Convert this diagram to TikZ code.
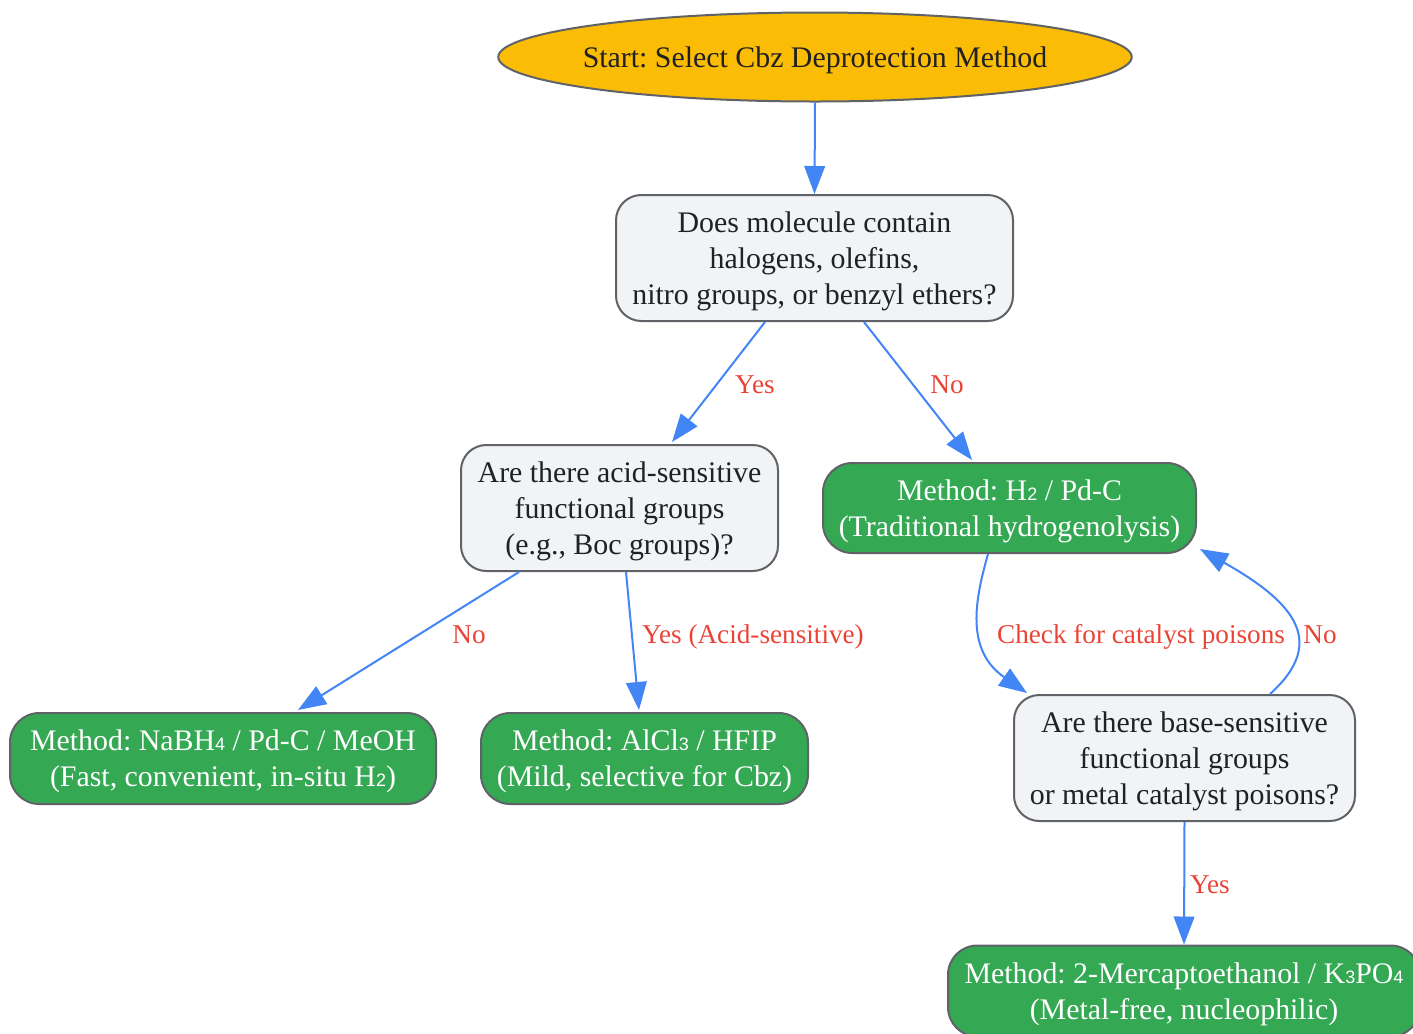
\documentclass[tikz,border=0pt]{standalone}
\usepackage{fontspec}
\setmainfont{Liberation Serif}
\newfontfamily\subfont{Liberation Sans}
\usetikzlibrary{arrows.meta,shapes.geometric,calc}
\definecolor{ystart}{HTML}{FBBC05}
\definecolor{qfill}{HTML}{F1F3F4}
\definecolor{mgreen}{HTML}{34A853}
\definecolor{edgeblue}{HTML}{4285F4}
\definecolor{lblred}{HTML}{EA4335}
\definecolor{bordergray}{HTML}{5F6368}
\definecolor{txtdark}{HTML}{202124}
\newcommand\ls{\rule[-5.5pt]{0pt}{26pt}}
\newcommand\sbs[1]{{\subfont\fontsize{13.5}{13.5}\selectfont #1}}
\frenchspacing
\begin{document}
\begin{tikzpicture}[x=0.75pt,y=-0.75pt,
  base/.style={draw=bordergray, line width=1.5pt, align=center, inner sep=0pt,
    font=\fontsize{22.4}{27}\selectfont},
  startnode/.style={base, ellipse, fill=ystart, text=txtdark, inner xsep=-6.2pt},
  qbox/.style={base, rectangle, rounded corners=19pt, fill=qfill, text=txtdark},
  mbox/.style={base, rectangle, rounded corners=22pt, fill=mgreen, text=white},
  conn/.style={draw=edgeblue, line width=1.5pt, -{Triangle[length=21pt,width=15.5pt]}},
  lbl/.style={text=lblred, font=\fontsize{20.4}{24}\selectfont, inner sep=0pt,
    text height=13.5pt, text depth=0pt}
]
\useasboundingbox (0,0) rectangle (1413,1033);

\node[startnode, minimum width=474.75pt, minimum height=66.75pt] (start) at (815,57)
  {\ls Start: Select Cbz Deprotection Method};
\node[qbox, minimum width=297.75pt, minimum height=94.5pt] (q1) at (814.5,258)
  {\ls Does molecule contain\\\ls halogens, olefins,\\\ls nitro groups, or benzyl ethers?};
\node[qbox, minimum width=237.75pt, minimum height=94.5pt] (q2) at (619.5,508)
  {\ls Are there acid-sensitive\\\ls functional groups\\\ls (e.g., Boc groups)?};
\node[mbox, minimum width=279.75pt, minimum height=67.5pt] (h2) at (1009.5,508)
  {\ls Method: H\sbs{2} / Pd-C\\\ls (Traditional hydrogenolysis)};
\node[mbox, minimum width=319.5pt, minimum height=68.25pt] (nabh) at (223,758.5)
  {\ls Method: NaBH\sbs{4} / Pd-C / MeOH\\\ls (Fast, convenient, in-situ H\sbs{2})};
\node[mbox, minimum width=245.25pt, minimum height=68.25pt] (alcl) at (644.5,758.5)
  {\ls Method: AlCl\sbs{3} / HFIP\\\ls (Mild, selective for Cbz)};
\node[qbox, minimum width=255.75pt, minimum height=94.5pt] (q3) at (1184.5,758)
  {\ls Are there base-sensitive\\\ls functional groups\\\ls or metal catalyst poisons?};
\node[mbox, minimum width=354pt, minimum height=68.25pt] (merc) at (1184,991)
  {\ls Method: 2-Mercaptoethanol / K\sbs{3}PO\sbs{4}\\\ls (Metal-free, nucleophilic)};

\draw[conn] (start.south) -- (q1.north);
\draw[conn] ($(q1.south)+(-49.5,0)$) -- ($(q2.north)+(52.5,-2)$)
  node[lbl, at={(755,384)}] {Yes};
\draw[conn] ($(q1.south)+(49.5,0)$) -- ($(h2.north)+(-37.5,-2)$)
  node[lbl, at={(947,384)}] {No};
\draw[conn] ($(q2.south)+(-100.5,0)$) -- ($(nabh.north)+(75,-2)$)
  node[lbl, at={(469,634)}] {No};
\draw[conn] ($(q2.south)+(6.5,0)$) -- ($(alcl.north)+(-5.5,-2)$)
  node[lbl, at={(753,634)}] {Yes (Acid-sensitive)};
\draw[conn] ($(h2.south)+(-21.5,0)$) .. controls (975,600) and (965,650) .. ($(q3.north west)+(14,-1)$)
  node[lbl, at={(1141,634)}] {Check for catalyst poisons};
\draw[conn] ($(q3.north)+(85.5,0)$) .. controls (1330,640) and (1290,600) .. ($(h2.south east)+(3,-5)$)
  node[lbl, at={(1320,634)}] {No};
\draw[conn] (q3.south) -- (merc.north)
  node[lbl, at={(1210,884)}] {Yes};
\end{tikzpicture}
\end{document}
